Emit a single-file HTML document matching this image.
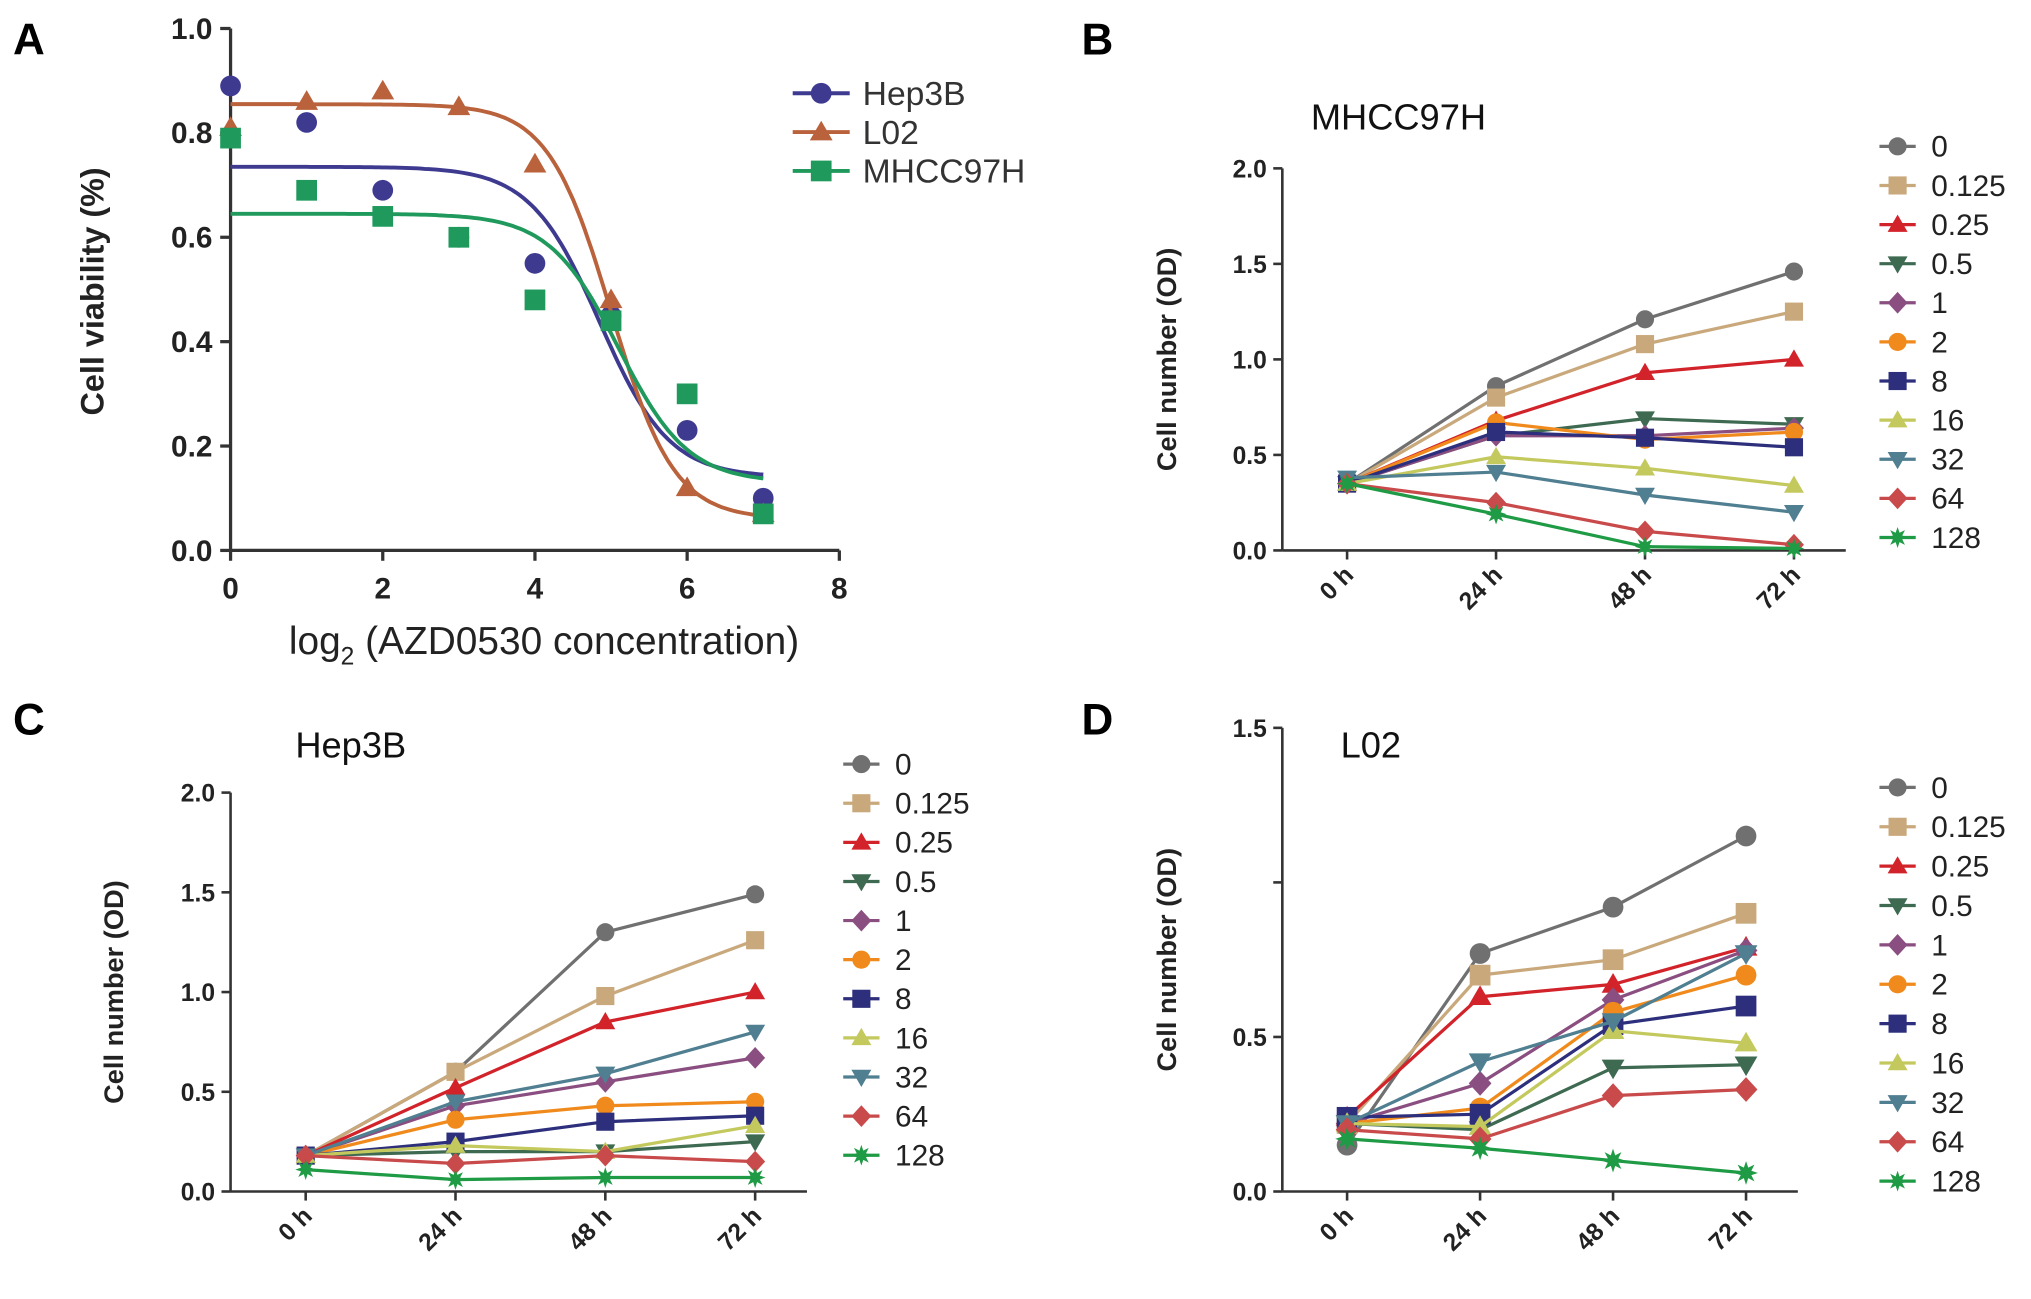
<!DOCTYPE html>
<html><head><meta charset="utf-8"><style>
html,body{margin:0;padding:0;background:#fff}
svg{display:block;font-family:"Liberation Sans",Arial,sans-serif}
</style></head><body>
<svg id="fig" width="2031" height="1299" viewBox="0 0 1568 1003" preserveAspectRatio="none" xmlns="http://www.w3.org/2000/svg"></svg>
<script>
// ---------- Panel A data ----------
const doseX = [0,1,2,3,4,5,6,7];
const hep3bA = [0.89,0.82,0.69,0.60,0.55,0.45,0.23,0.10];
const l02A = [0.81,0.86,0.88,0.85,0.74,0.48,0.12,0.07];
const mhccA = [0.79,0.69,0.64,0.60,0.48,0.44,0.30,0.07];
const fitHep3b = [0.735,0.14,4.85,0.95];   // top, bottom, logIC50, slope
const fitL02 = [0.855,0.06,5.0,1.05];
const fitMhcc = [0.645,0.13,5.1,0.95];
const aYTicks = [0,0.2,0.4,0.6,0.8,1.0];
const aXTicks = [0,2,4,6,8];
// ---------- Growth panels ----------
const timeLabels = ["0 h","24 h","48 h","72 h"];
const doseLabels = ["0","0.125","0.25","0.5","1","2","8","16","32","64","128"];
const bValues = [
 [.35,.86,1.21,1.46],[.35,.80,1.08,1.25],[.35,.68,.93,1.0],[.35,.60,.69,.66],
 [.35,.60,.60,.64],[.35,.67,.58,.62],[.35,.62,.59,.54],[.35,.49,.43,.34],
 [.38,.41,.29,.20],[.35,.25,.10,.03],[.35,.19,.02,.01]];
const cValues = [
 [.18,.60,1.30,1.49],[.18,.60,.98,1.26],[.18,.52,.85,1.0],[.18,.20,.20,.25],
 [.18,.43,.55,.67],[.18,.36,.43,.45],[.18,.25,.35,.38],[.18,.23,.20,.33],
 [.18,.45,.59,.80],[.18,.14,.18,.15],[.11,.06,.07,.07]];
const dValues = [
 [.15,.77,.92,1.15],[.22,.70,.75,.90],[.24,.63,.67,.79],[.22,.20,.40,.41],
 [.22,.35,.62,.78],[.22,.27,.58,.70],[.24,.25,.54,.60],[.22,.21,.52,.48],
 [.22,.42,.55,.77],[.20,.17,.31,.33],[.17,.14,.10,.06]];
const bYTicks = [0,0.5,1.0,1.5,2.0];
const cYTicks = [0,0.5,1.0,1.5,2.0];
const dYTicks = [0,0.5,1.0,1.5];
const dYLabels = ["0.0","0.5","","1.5"];

const colors = ["#707070","#c9a97c","#d2232a","#3f6a52","#8a4f80","#f08a1c","#2d2f7c","#c4c95e","#4f7f90","#c94a4a","#1f9a45"];
const shapes = ["circle","square","up","down","diamond","circle","square","up","down","diamond","star"];

const NS="http://www.w3.org/2000/svg";
const svg=document.getElementById('fig');
function mk(tag,attrs,parent){const e=document.createElementNS(NS,tag);for(const k in attrs)e.setAttribute(k,attrs[k]);(parent||svg).appendChild(e);return e;}
function txt(x,y,s,size,anchor,parent,extra){const t=mk('text',Object.assign({x:x,y:y,'font-size':size,'text-anchor':anchor||'middle','font-weight':'bold',fill:'#222'},extra||{}),parent);t.textContent=s;return t;}
function marker(g,shape,x,y,r,color){
  let e;
  if(shape==='circle')e=mk('circle',{cx:x,cy:y,r:r,fill:color},g);
  else if(shape==='square')e=mk('rect',{x:x-r,y:y-r,width:2*r,height:2*r,fill:color},g);
  else if(shape==='up')e=mk('polygon',{points:`${x},${y-r*1.1} ${x-r*1.1},${y+r*0.8} ${x+r*1.1},${y+r*0.8}`,fill:color},g);
  else if(shape==='down')e=mk('polygon',{points:`${x},${y+r*1.1} ${x-r*1.1},${y-r*0.8} ${x+r*1.1},${y-r*0.8}`,fill:color},g);
  else if(shape==='diamond')e=mk('polygon',{points:`${x},${y-r*1.2} ${x+r*1.1},${y} ${x},${y+r*1.2} ${x-r*1.1},${y}`,fill:color},g);
  else {let p=[];for(let i=0;i<16;i++){const rr=i%2?r*0.55:r*1.15;const a=Math.PI*i/8;p.push((x+rr*Math.sin(a)).toFixed(1)+','+(y-rr*Math.cos(a)).toFixed(1));}e=mk('polygon',{points:p.join(' '),fill:color},g);}
  return e;
}
// panel letters
[["A",10,42],["B",835,42],["C",10,567],["D",835,567]].forEach(l=>{const t=txt(l[1],l[2],l[0],34,'start',svg,{fill:'#000'});});

// ---------- Panel A ----------
(function(){
  const g=mk('g',{});
  
  
  const x0=178,x1=648,y0=425,y1=22;
  const sx=v=>x0+(v/8)*(x1-x0), sy=v=>y0-(v/1.0)*(y0-y1);
  mk('line',{x1:x0,y1:y1,x2:x0,y2:y0,stroke:'#333','stroke-width':2.5},g);
  mk('line',{x1:x0,y1:y0,x2:x1,y2:y0,stroke:'#333','stroke-width':2.5},g);
  aYTicks.forEach(v=>{mk('line',{x1:x0-8,y1:sy(v),x2:x0,y2:sy(v),stroke:'#333','stroke-width':2.5},g);txt(x0-14,sy(v)+8,v.toFixed(1),23,'end',g);});
  aXTicks.forEach(v=>{mk('line',{x1:sx(v),y1:y0,x2:sx(v),y2:y0+8,stroke:'#333','stroke-width':2.5},g);txt(sx(v),y0+37,String(v),23,'middle',g);});
  const yl=txt(80,225,'Cell viability (%)',25,'middle',g,{transform:'rotate(-90 80 225)'});
  
  const xl=mk('text',{x:420,y:505,'font-size':30,'text-anchor':'middle',fill:'#222'},g);
  xl.innerHTML='log<tspan font-size="19" dy="8">2</tspan><tspan dy="-8"> (AZD0530 concentration)</tspan>';
  
  const series=[[hep3bA,fitHep3b,'#3d3a90','circle','Hep3B'],[l02A,fitL02,'#b9623b','up','L02'],[mhccA,fitMhcc,'#1f9a5c','square','MHCC97H']];
  series.forEach((s,i)=>{
    let d='';for(let k=0;k<=140;k++){const v=k*7/140;const f=s[1];const y=f[1]+(f[0]-f[1])/(1+Math.pow(10,(v-f[2])*f[3]));d+=(k?'L':'M')+sx(v).toFixed(1)+','+sy(y).toFixed(1);}
    const p=mk('path',{d:d,fill:'none',stroke:s[2],'stroke-width':3},g);
    
    
    doseX.forEach((v,j)=>{const m=marker(g,s[3],sx(v),sy(s[0][j]),8,s[2]);
      
      });
    const ly=72+i*30;
    const lg=mk('g',{},g);
    
    
    mk('line',{x1:612,y1:ly,x2:656,y2:ly,stroke:s[2],'stroke-width':3},lg);
    marker(lg,s[3],634,ly,8,s[2]);
    const t=mk('text',{x:666,y:ly+9,'font-size':26,fill:'#333'},lg);t.textContent=s[4];
  });
})();

// ---------- growth panels ----------
function growth(cfg){
  const g=mk('g',{});
  
  
  const sy=v=>cfg.y0-(v/cfg.ymax)*(cfg.y0-cfg.y1);
  const sx=i=>cfg.xs[0]+i*(cfg.xs[1]-cfg.xs[0])/3;
  mk('line',{x1:cfg.ax,y1:cfg.y1,x2:cfg.ax,y2:cfg.y0,stroke:'#333','stroke-width':2},g);
  mk('line',{x1:cfg.ax,y1:cfg.y0,x2:sx(3)+40,y2:cfg.y0,stroke:'#333','stroke-width':2},g);
  cfg.yticks.forEach((v,i)=>{mk('line',{x1:cfg.ax-7,y1:sy(v),x2:cfg.ax,y2:sy(v),stroke:'#333','stroke-width':2},g);
    const lab=cfg.ylabels?cfg.ylabels[i]:v.toFixed(1);txt(cfg.ax-12,sy(v)+7,lab,19,'end',g);});
  timeLabels.forEach((s,i)=>{mk('line',{x1:sx(i),y1:cfg.y0,x2:sx(i),y2:cfg.y0+7,stroke:'#333','stroke-width':2},g);
    const tx=sx(i)+6,ty=cfg.y0+20;txt(tx,ty,s,19,'end',g,{transform:`rotate(-45 ${tx} ${ty})`});});
  const yc=(cfg.y0+cfg.y1)/2;
  txt(cfg.ylx,yc,'Cell number (OD)',21,'middle',g,{transform:`rotate(-90 ${cfg.ylx} ${yc})`});
  const tt=txt(cfg.title[1],cfg.title[2],cfg.title[0],28,'start',g,{'font-weight':'normal',fill:'#111'});
  
  cfg.vals.forEach((row,k)=>{
    const d=row.map((v,i)=>(i?'L':'M')+sx(i).toFixed(1)+','+sy(v).toFixed(1)).join('');
    const p=mk('path',{d:d,fill:'none',stroke:colors[k],'stroke-width':2.5},g);
    
    
    row.forEach((v,i)=>{const m=marker(g,shapes[k],sx(i),sy(v),cfg.r,colors[k]);
      
      });
    const ly=cfg.leg[1]+k*cfg.leg[2];
    const lg=mk('g',{},g);
    
    
    mk('line',{x1:cfg.leg[0]-14,y1:ly,x2:cfg.leg[0]+14,y2:ly,stroke:colors[k],'stroke-width':2.5},lg);
    marker(lg,shapes[k],cfg.leg[0],ly,7,colors[k]);
    const t=mk('text',{x:cfg.leg[0]+26,y:ly+8,'font-size':23,fill:'#222'},lg);t.textContent=doseLabels[k];
  });
}
growth({name:'panel-b-mhcc97h',vals:bValues,ymax:2.0,y0:425,y1:130,xs:[1040,1385],ax:990,yticks:bYTicks,ylx:908,title:['MHCC97H',1012,100],leg:[1465,113,30.2],r:7});
growth({name:'panel-c-hep3b',vals:cValues,ymax:2.0,y0:920,y1:612,xs:[236,583],ax:178,yticks:cYTicks,ylx:95,title:['Hep3B',228,585],leg:[665,590,30.2],r:7});
growth({name:'panel-d-l02',vals:dValues,ymax:1.5,y0:920,y1:562,xs:[1040,1348],ax:990,yticks:dYTicks,ylabels:dYLabels,ylx:908,title:['L02',1035,585],leg:[1465,608,30.4],r:8});
</script>
</body></html>
